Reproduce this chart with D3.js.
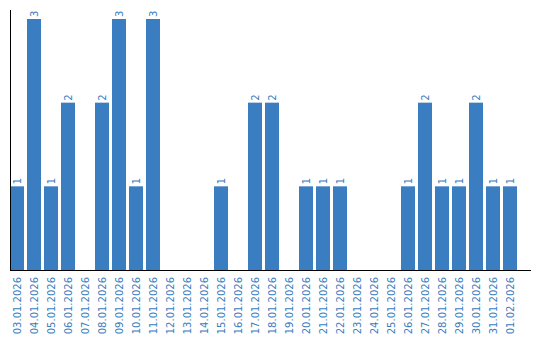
<!DOCTYPE html>
<html>
<head>
<meta charset="utf-8">
<script src="https://cdn.jsdelivr.net/npm/d3@7"></script>
<style>
  body { margin: 0; background: #fff; }
</style>
</head>
<body>
<div id="chart"></div>
<script>
var dates = ["03.01.2026", "04.01.2026", "05.01.2026", "06.01.2026", "07.01.2026",
  "08.01.2026", "09.01.2026", "10.01.2026", "11.01.2026", "12.01.2026",
  "13.01.2026", "14.01.2026", "15.01.2026", "16.01.2026", "17.01.2026",
  "18.01.2026", "19.01.2026", "20.01.2026", "21.01.2026", "22.01.2026",
  "23.01.2026", "24.01.2026", "25.01.2026", "26.01.2026", "27.01.2026",
  "28.01.2026", "29.01.2026", "30.01.2026", "31.01.2026", "01.02.2026"];
var counts = [1, 3, 1, 2, 0, 2, 3, 1, 3, 0, 0, 0, 1, 0, 2, 2, 0, 1, 1, 1, 0, 0, 0, 1, 2, 1, 1, 2, 1, 1];

var width = 540,
    height = 340,
    plotLeft = 10,
    baseline = 270,
    plotTop = 19,
    barColor = "#3a7dc0";

var svg = d3.select("#chart").append("svg")
  .attr("width", width)
  .attr("height", height);

var x = d3.scaleBand()
  .domain(dates)
  .range([plotLeft, plotLeft + 507])
  .paddingInner(3 / 17)
  .paddingOuter(0);

var y = d3.scaleLinear()
  .domain([0, 3])
  .range([baseline, plotTop]);

var data = dates.map(function (d, i) { return {date: d, value: counts[i]}; });

svg.selectAll("rect.bar")
  .data(data.filter(function (d) { return d.value > 0; }))
  .enter().append("rect")
    .attr("class", "bar")
    .attr("x", function (d) { return x(d.date); })
    .attr("y", function (d) { return y(d.value); })
    .attr("width", x.bandwidth())
    .attr("height", function (d) { return baseline - y(d.value); })
    .attr("fill", barColor);

svg.selectAll("text.value_label")
  .data(data.filter(function (d) { return d.value > 0; }))
  .enter().append("text")
    .attr("class", "value_label")
    .attr("transform", function (d) {
      return "translate(" + (x(d.date) + x.bandwidth() / 2 + 3.5) + "," + (y(d.value) - 2) + ") rotate(-90)";
    })
    .attr("font-family", "DejaVu Sans, sans-serif")
    .attr("font-size", "10px")
    .attr("fill", barColor)
    .text(function (d) { return d.value; });

svg.selectAll("text.x_label")
  .data(dates)
  .enter().append("text")
    .attr("class", "x_label")
    .attr("text-anchor", "end")
    .attr("transform", function (d) {
      return "translate(" + (x(d) + x.bandwidth() / 2 + 3.5) + "," + (baseline + 7) + ") rotate(-90)";
    })
    .attr("font-family", "DejaVu Sans, sans-serif")
    .attr("font-size", "10px")
    .attr("fill", barColor)
    .text(function (d) { return d; });

// axes
svg.append("line")
  .attr("x1", plotLeft + 0.5).attr("y1", 10)
  .attr("x2", plotLeft + 0.5).attr("y2", baseline)
  .attr("stroke", "#000")
  .attr("stroke-width", 1);

svg.append("line")
  .attr("x1", plotLeft).attr("y1", baseline + 0.5)
  .attr("x2", 531).attr("y2", baseline + 0.5)
  .attr("stroke", "#000")
  .attr("stroke-width", 1);
</script>
</body>
</html>
